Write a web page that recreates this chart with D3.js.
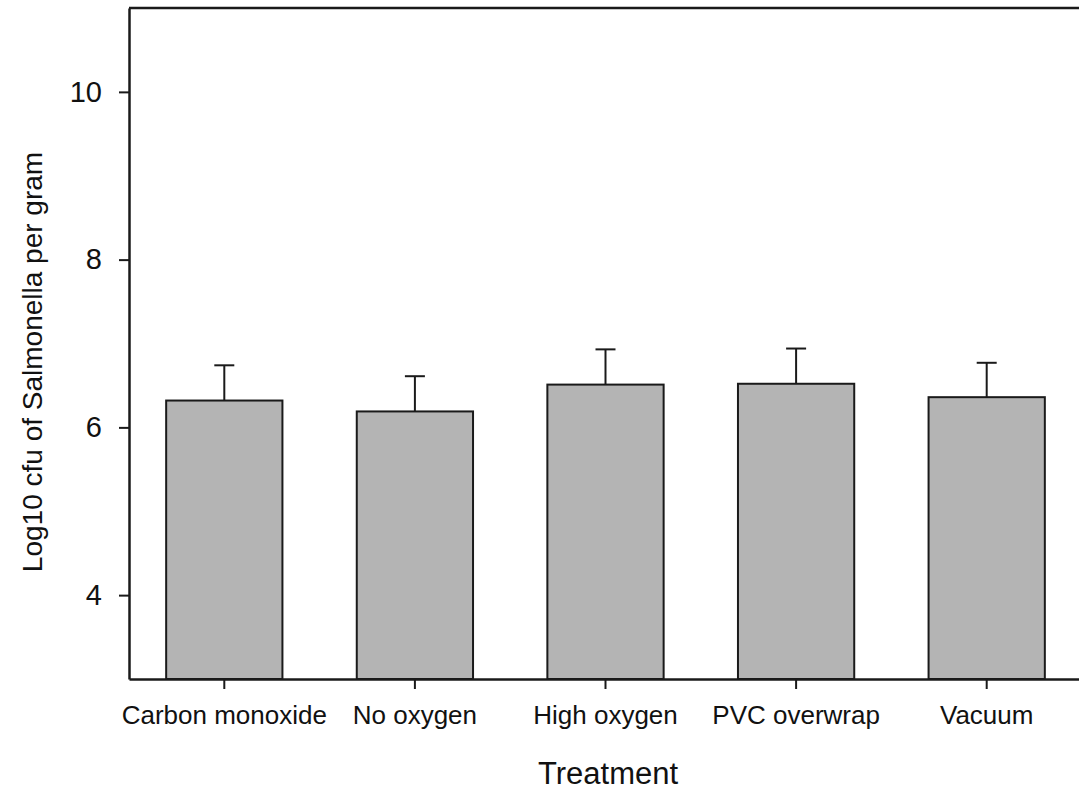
<!DOCTYPE html>
<html>
<head>
<meta charset="utf-8">
<script src="https://cdn.jsdelivr.net/npm/d3@7"></script>
<style>
  html, body { margin: 0; padding: 0; background: #fff; }
  svg { display: block; font-family: "Liberation Sans", Arial, sans-serif; }
</style>
</head>
<body>
<svg id="chart" width="1079" height="792"></svg>
<script>
// Salmonella counts per packaging treatment (mean log10 cfu/g with upper error)
const treatments = ["Carbon monoxide", "No oxygen", "High oxygen", "PVC overwrap", "Vacuum"];
const means = [6.32, 6.19, 6.51, 6.52, 6.36];
const errors = [0.42, 0.42, 0.42, 0.42, 0.41];
const yTicks = [4, 6, 8, 10];

const svg = d3.select("#chart");
const plotLeft = 129, plotRight = 1082, plotTop = 8, plotBottom = 679;
const ink = "#1a1a1a";

const x = d3.scaleBand()
  .domain(treatments)
  .range([plotLeft, plotRight])
  .paddingInner(0.39)
  .paddingOuter(0.195);

const y = d3.scaleLinear().domain([3, 11]).range([plotBottom, plotTop]);

// bars
svg.append("g").selectAll("rect")
  .data(treatments)
  .join("rect")
  .attr("x", d => x(d))
  .attr("y", (d, i) => y(means[i]))
  .attr("width", x.bandwidth())
  .attr("height", (d, i) => y(3) - y(means[i]))
  .attr("fill", "#b4b4b4")
  .attr("stroke", ink)
  .attr("stroke-width", 2);

// upper error bars
const eb = svg.append("g").attr("stroke", ink).attr("stroke-width", 2);
treatments.forEach((d, i) => {
  const cx = x(d) + x.bandwidth() / 2;
  eb.append("line")
    .attr("x1", cx).attr("x2", cx)
    .attr("y1", y(means[i])).attr("y2", y(means[i] + errors[i]));
  eb.append("line")
    .attr("x1", cx - 10).attr("x2", cx + 10)
    .attr("y1", y(means[i] + errors[i])).attr("y2", y(means[i] + errors[i]));
});

// frame: top border line
svg.append("line")
  .attr("x1", plotLeft).attr("x2", plotRight)
  .attr("y1", plotTop).attr("y2", plotTop)
  .attr("stroke", ink).attr("stroke-width", 2.5);

// y axis
const yAxis = svg.append("g")
  .attr("transform", `translate(${plotLeft},0)`)
  .call(d3.axisLeft(y).tickValues(yTicks).tickSize(10).tickPadding(17).tickSizeOuter(0));
yAxis.select(".domain").attr("stroke", ink).attr("stroke-width", 2.5);
yAxis.selectAll(".tick line").attr("stroke", ink).attr("stroke-width", 2);
yAxis.selectAll(".tick text")
  .attr("fill", "#111")
  .style("font-size", "29px")
  .style("font-family", "Liberation Sans, Arial, sans-serif");

// x axis
const xAxis = svg.append("g")
  .attr("transform", `translate(0,${plotBottom})`)
  .call(d3.axisBottom(x).tickSize(10).tickPadding(0).tickSizeOuter(0));
xAxis.select(".domain").attr("stroke", ink).attr("stroke-width", 2.5);
xAxis.selectAll(".tick line").attr("stroke", ink).attr("stroke-width", 2);
xAxis.selectAll(".tick text")
  .attr("fill", "#111")
  .attr("y", 45)
  .attr("dy", 0)
  .style("font-size", "26px")
  .style("font-family", "Liberation Sans, Arial, sans-serif");

// axis titles
svg.append("text")
  .attr("x", 608).attr("y", 784)
  .attr("text-anchor", "middle")
  .attr("fill", "#111")
  .style("font-size", "31px")
  .text("Treatment");

svg.append("text")
  .attr("transform", "translate(42,362) rotate(-90)")
  .attr("text-anchor", "middle")
  .attr("fill", "#111")
  .style("font-size", "28px")
  .text("Log10 cfu of Salmonella per gram");
</script>
</body>
</html>
